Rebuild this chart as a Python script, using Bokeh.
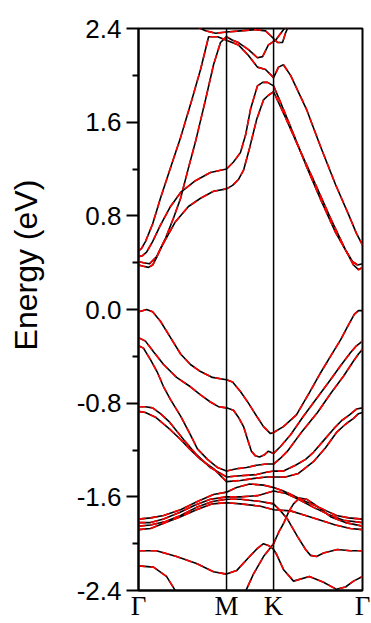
import math
from bokeh.plotting import figure
from bokeh.models import Range1d, FixedTicker, PrintfTickFormatter, Span, LinearAxis
from bokeh.embed import file_html
from bokeh.resources import INLINE

# high-symmetry path (normalised path length)
k_ticks = [0.0, 0.393, 0.603, 1.0]
k_labels = ["Γ", "M", "K", "Γ"]
e_ticks = [-2.4, -1.6, -0.8, 0.0, 0.8, 1.6, 2.4]
e_minor = [-2.0, -1.2, -0.4, 0.4, 1.2, 2.0]

# conduction bands
k_cb1 = [0, .013, .031, .063, .098, .143, .188, .232, .277, .313, .353, .393, .446, .491, .531, .567, .603, .625, .647, .679, .750, .813, .879, .938, .973, 1.0]
e_cb1 = [0.50, 0.52, 0.58, 0.73, 0.95, 1.21, 1.47, 1.75, 2.05, 2.33, 2.33, 2.30, 2.26, 2.17, 2.07, 2.05, 1.98, 2.07, 2.09, 2.00, 1.71, 1.39, 1.07, 0.81, 0.65, 0.55]
k_cb2 = [0, .022, .045, .063, .080, .098, .121, .156, .188, .219, .254, .299, .335, .366, .393, .420, .446, .491, .531, .554, .580, .612, .647, .670]
e_cb2 = [0.38, 0.37, 0.36, 0.38, 0.44, 0.52, 0.61, 0.78, 0.95, 1.18, 1.43, 1.79, 2.09, 2.28, 2.33, 2.30, 2.28, 2.22, 2.15, 2.16, 2.26, 2.30, 2.39, 2.43]
k_cb3 = [0, .018, .036, .063, .098, .143, .188, .254, .321, .393, .424, .455, .478, .500, .531, .554, .576, .603, .634, .679, .746, .813, .879, .924, .955, .978, 1.0]
e_cb3 = [0.45, 0.46, 0.49, 0.58, 0.72, 0.88, 1.00, 1.10, 1.17, 1.20, 1.26, 1.34, 1.49, 1.71, 1.91, 1.94, 1.94, 1.91, 1.77, 1.56, 1.24, 0.94, 0.66, 0.51, 0.41, 0.38, 0.39]
k_cb4 = [0, .022, .049, .080, .121, .165, .223, .277, .335, .393, .420, .446, .469, .496, .527, .558, .580, .603, .656, .723, .790, .857, .924, .960, .982, 1.0]
e_cb4 = [0.41, 0.40, 0.39, 0.45, 0.60, 0.75, 0.88, 0.95, 1.01, 1.03, 1.06, 1.11, 1.19, 1.38, 1.62, 1.79, 1.83, 1.86, 1.64, 1.35, 1.07, 0.78, 0.51, 0.38, 0.34, 0.36]
k_cb5 = [.254, .299, .344, .393, .455, .522, .567, .589, .621, .643, .656, .670]
e_cb5 = [2.42, 2.38, 2.36, 2.37, 2.38, 2.39, 2.38, 2.34, 2.28, 2.28, 2.36, 2.42]

# valence bands
k_vb1 = [0, .018, .036, .063, .098, .143, .188, .232, .277, .330, .393, .420, .455, .491, .527, .558, .589, .603, .647, .705, .763, .813, .857, .902, .938, .964, .982, 1.0]
e_vb1 = [-0.02, -0.01, 0.0, -0.02, -0.10, -0.24, -0.38, -0.47, -0.53, -0.58, -0.60, -0.62, -0.70, -0.80, -0.91, -1.00, -1.06, -1.05, -1.00, -0.90, -0.71, -0.54, -0.40, -0.26, -0.13, -0.04, -0.01, -0.01]
k_vb3 = [0, .031, .067, .112, .170, .232, .277, .321, .357, .393, .424, .446, .469, .487, .504, .522, .540, .563, .580, .603, .634, .679, .737, .795, .857, .902, .946, .973, 1.0]
e_vb3 = [-0.24, -0.27, -0.36, -0.47, -0.58, -0.66, -0.73, -0.79, -0.83, -0.84, -0.86, -0.92, -1.00, -1.11, -1.21, -1.25, -1.26, -1.24, -1.21, -1.23, -1.17, -1.07, -0.91, -0.76, -0.60, -0.48, -0.37, -0.31, -0.27]
k_vb4 = [0, .022, .054, .085, .112, .143, .188, .232, .263, .308, .353, .393, .438, .482, .527, .571, .603, .634, .665, .723, .799, .857, .915, .960, .982, 1.0]
e_vb4 = [-0.31, -0.33, -0.43, -0.54, -0.66, -0.77, -0.91, -1.07, -1.19, -1.28, -1.35, -1.38, -1.36, -1.35, -1.33, -1.32, -1.32, -1.27, -1.21, -1.06, -0.88, -0.72, -0.57, -0.44, -0.38, -0.34]
k_vb5 = [0, .031, .063, .098, .138, .201, .259, .321, .393, .455, .527, .571, .603, .647, .701, .746, .781, .826, .871, .906, .942, .973, 1.0]
e_vb5 = [-0.83, -0.83, -0.84, -0.89, -0.96, -1.11, -1.24, -1.35, -1.43, -1.42, -1.41, -1.39, -1.38, -1.38, -1.33, -1.28, -1.22, -1.12, -1.02, -0.95, -0.90, -0.85, -0.84]
k_vb6 = [0, .031, .076, .138, .188, .228, .277, .335, .393, .455, .527, .571, .603, .656, .714, .781, .835, .884, .924, .960, .982, 1.0]
e_vb6 = [-0.87, -0.88, -0.92, -1.02, -1.11, -1.19, -1.28, -1.36, -1.47, -1.46, -1.44, -1.43, -1.43, -1.43, -1.40, -1.30, -1.18, -1.05, -0.98, -0.93, -0.89, -0.88]
k_d1 = [0, .054, .112, .188, .263, .335, .393, .438, .496, .558, .603, .647, .692, .746, .795, .839, .884, .938, 1.0]
e_d1 = [-1.79, -1.78, -1.76, -1.71, -1.64, -1.58, -1.56, -1.52, -1.49, -1.50, -1.52, -1.55, -1.59, -1.64, -1.68, -1.72, -1.76, -1.78, -1.79]
k_d2 = [0, .054, .112, .188, .254, .321, .393, .455, .531, .603, .656, .714, .781, .848, .915, 1.0]
e_d2 = [-1.82, -1.82, -1.79, -1.73, -1.67, -1.62, -1.60, -1.60, -1.59, -1.55, -1.57, -1.62, -1.69, -1.75, -1.80, -1.82]
k_d3 = [0, .054, .121, .188, .259, .330, .393, .455, .545, .603, .634, .665, .710, .746, .768, .795, .826, .888, .946, 1.0]
e_d3 = [-1.85, -1.84, -1.81, -1.76, -1.69, -1.64, -1.62, -1.62, -1.64, -1.66, -1.72, -1.79, -1.94, -2.05, -2.10, -2.11, -2.08, -2.05, -2.06, -2.06]
k_d4 = [0, .054, .121, .188, .259, .330, .393, .455, .545, .603, .679, .746, .813, .879, .946, 1.0]
e_d4 = [-1.88, -1.87, -1.82, -1.77, -1.71, -1.66, -1.65, -1.66, -1.68, -1.71, -1.72, -1.76, -1.80, -1.84, -1.87, -1.88]
k_e2 = [.469, .482, .513, .558, .603, .629, .647, .670, .692, .719, .750, .790, .857, .924, 1.0]
e_e2 = [-2.46, -2.39, -2.26, -2.11, -2.00, -1.89, -1.83, -1.73, -1.66, -1.61, -1.62, -1.67, -1.77, -1.82, -1.85]
k_f1 = [0, .080, .170, .259, .335, .393, .438, .496, .531, .558, .585, .603, .616, .647, .692, .763, .826, .884, .924, .960, 1.0]
e_f1 = [-2.06, -2.06, -2.11, -2.17, -2.24, -2.26, -2.23, -2.11, -2.04, -2.00, -2.02, -2.05, -2.09, -2.22, -2.32, -2.28, -2.33, -2.39, -2.37, -2.32, -2.28]
k_f2 = [0, .067, .125, .161, .179]
e_f2 = [-2.19, -2.20, -2.28, -2.39, -2.45]

bands = [(k_cb1, e_cb1), (k_cb2, e_cb2), (k_cb3, e_cb3), (k_cb4, e_cb4), (k_cb5, e_cb5),
         (k_vb1, e_vb1), (k_vb3, e_vb3), (k_vb4, e_vb4), (k_vb5, e_vb5), (k_vb6, e_vb6),
         (k_d1, e_d1), (k_d2, e_d2), (k_d3, e_d3), (k_d4, e_d4), (k_e2, e_e2),
         (k_f1, e_f1), (k_f2, e_f2)]

p = figure(width=370, height=623, x_range=Range1d(0, 1), y_range=Range1d(-2.4, 2.4),
           output_backend="svg", toolbar_location=None,
           min_border_left=138, min_border_right=8, min_border_top=28, min_border_bottom=32)
p.grid.visible = False
p.background_fill_color = "white"
p.border_fill_color = "white"
p.outline_line_color = "black"
p.outline_line_width = 2

p.yaxis.ticker = FixedTicker(ticks=e_ticks, minor_ticks=e_minor)
p.yaxis.formatter = PrintfTickFormatter(format="%.1f")
p.yaxis.major_label_text_font = "Liberation Sans"
p.yaxis.major_label_text_font_size = "26px"
p.yaxis.major_label_text_color = "black"
p.yaxis.major_label_standoff = 5
p.yaxis.major_tick_out = 12
p.yaxis.major_tick_in = 0
p.yaxis.minor_tick_out = 6
p.yaxis.minor_tick_in = 0
p.yaxis.axis_line_width = 2
p.yaxis.major_tick_line_width = 2
p.yaxis.minor_tick_line_width = 2
p.yaxis.axis_line_color = "black"
p.yaxis.major_tick_line_color = "black"
p.yaxis.minor_tick_line_color = "black"

p.xaxis.ticker = FixedTicker(ticks=k_ticks, minor_ticks=[])
p.xaxis.major_label_overrides = {t: l for t, l in zip(k_ticks, k_labels)}
p.xaxis.major_label_text_font = "Liberation Serif"
p.xaxis.major_label_text_font_size = "27px"
p.xaxis.major_label_text_color = "black"
p.xaxis.major_label_standoff = 0
p.xaxis.major_tick_out = 0
p.xaxis.major_tick_in = 0
p.xaxis.axis_line_width = 2
p.xaxis.axis_line_color = "black"

# separate label-only axis; leading no-break spaces lift the text like in the reference
label_axis = LinearAxis(ticker=FixedTicker(ticks=[], minor_ticks=[]),
                        axis_label="\u00a0" * 10 + "Energy (eV)", axis_label_standoff=30,
                        axis_label_text_font="Liberation Sans", axis_label_text_font_size="32px",
                        axis_label_text_font_style="normal", axis_label_text_color="black",
                        axis_line_color=None, major_tick_out=0, major_tick_in=0,
                        minor_tick_out=0, minor_tick_in=0, major_label_text_font_size="0px")
p.add_layout(label_axis, "left")

for kx in k_ticks[1:3]:
    p.add_layout(Span(location=kx, dimension="height", line_color="black", line_width=1.5))

for kk, ee in bands:
    p.line(kk, ee, line_color="black", line_width=1.6)
for kk, ee in bands:
    p.line(kk, ee, line_color="#ff0000", line_width=1.6, line_dash="7 5")

open("out.html", "w").write(file_html(p, INLINE))
